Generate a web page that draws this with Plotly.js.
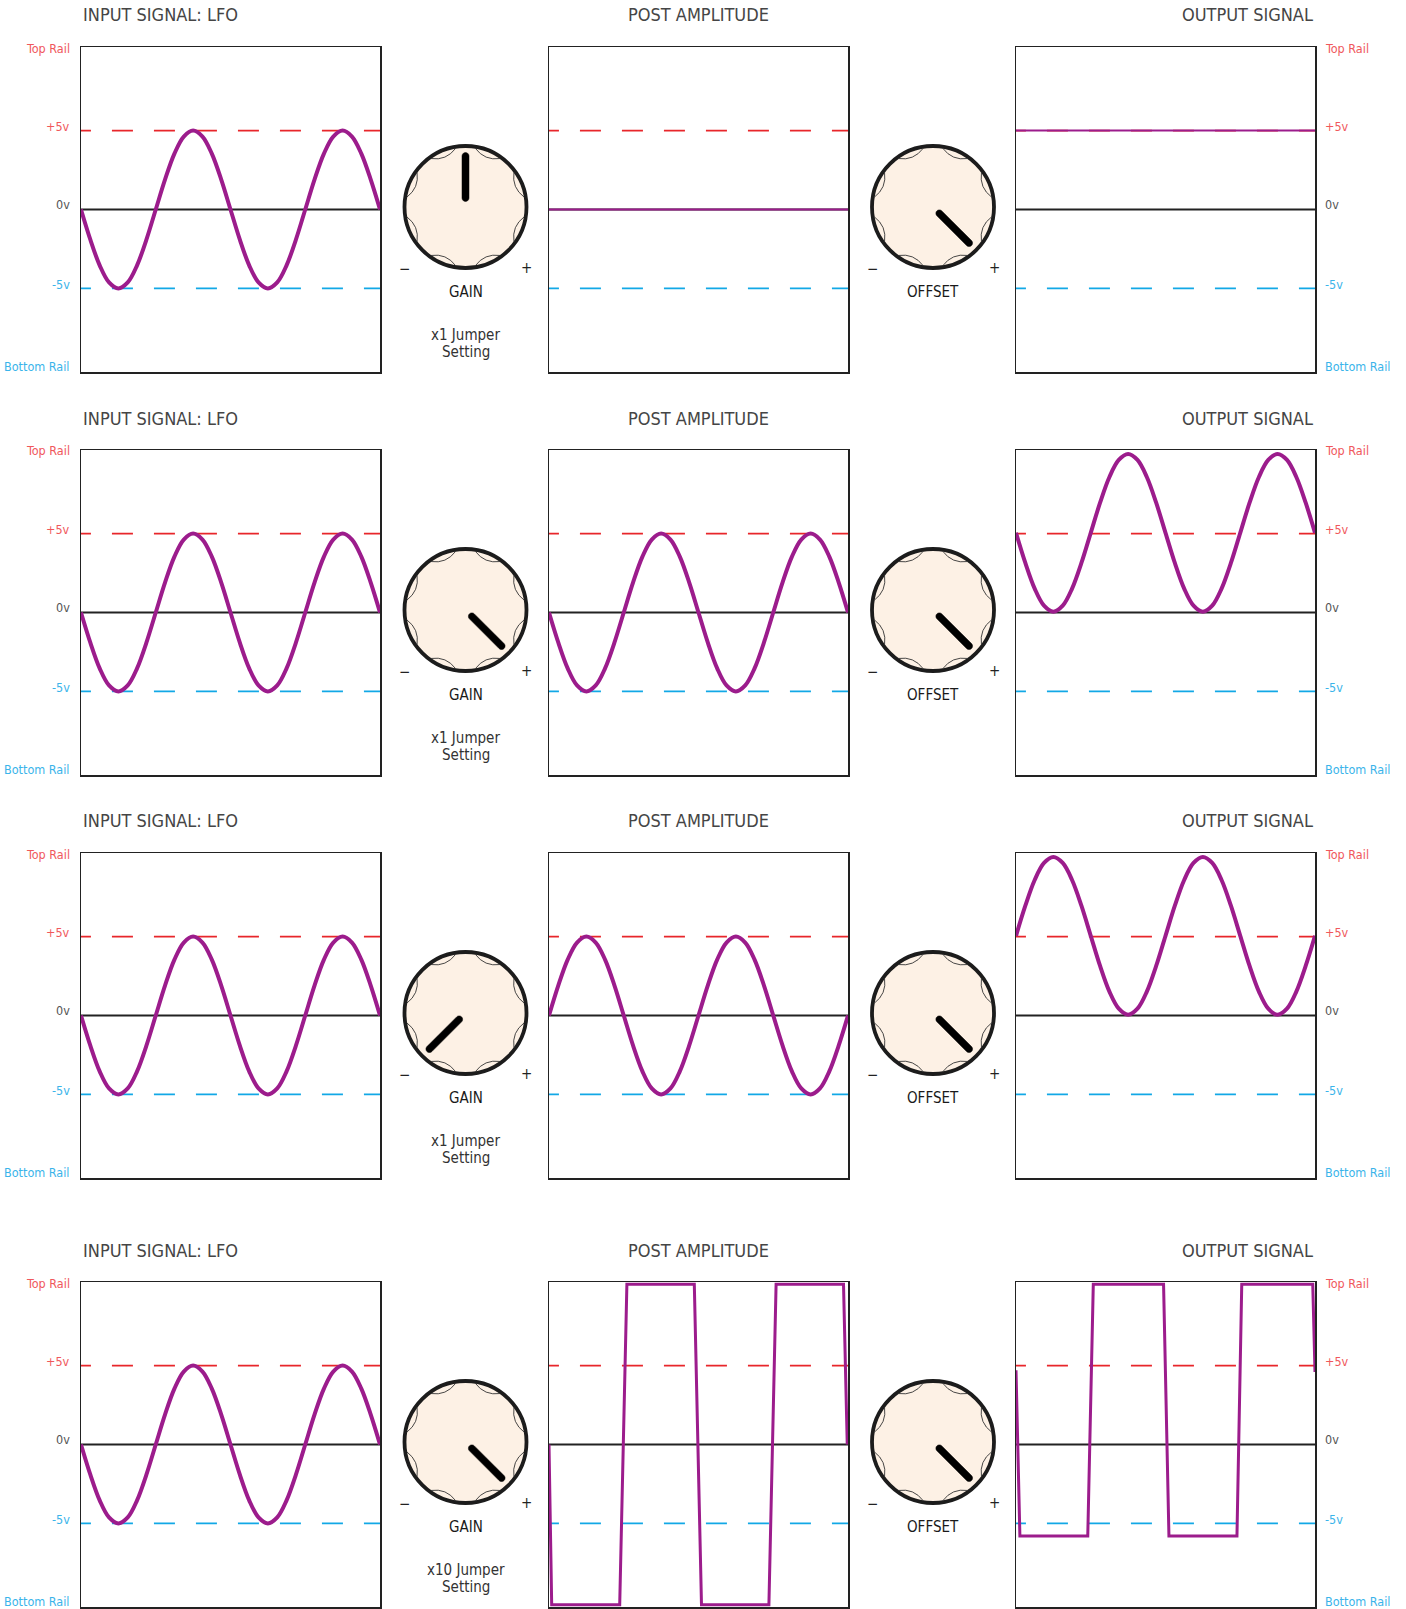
<!DOCTYPE html>
<html><head><meta charset="utf-8">
<script src="https://cdn.plot.ly/plotly-3.0.1.min.js"></script>
<style>html,body{margin:0;padding:0;background:#fff}</style>
</head><body><div id="chart" style="width:1406px;height:1609px"></div>
<script>
// ---------- DATA ----------
const columnTitles = ['INPUT SIGNAL: LFO', 'POST AMPLITUDE', 'OUTPUT SIGNAL'];
const railLabels = ['Top Rail', '+5v', '0v', '-5v', 'Bottom Rail'];
const railValues = [10.3, 5, 0, -5, -10.3];
const timeSteps = [0,0.0625,0.125,0.1875,0.25,0.3125,0.375,0.4375,0.5,0.5625,0.625,0.6875,0.75,0.8125,0.875,0.9375,1,
  1.0625,1.125,1.1875,1.25,1.3125,1.375,1.4375,1.5,1.5625,1.625,1.6875,1.75,1.8125,1.875,1.9375,2];
const inputLFO = [0,-1.91,-3.54,-4.62,-5,-4.62,-3.54,-1.91,0,1.91,3.54,4.62,5,4.62,3.54,1.91,0,
  -1.91,-3.54,-4.62,-5,-4.62,-3.54,-1.91,0,1.91,3.54,4.62,5,4.62,3.54,1.91,0];
const row1PostT = [0, 2];
const row1Post = [0, 0];
const row1OutT = [0, 2];
const row1Out = [5, 5];
const row2Post = [0,-1.91,-3.54,-4.62,-5,-4.62,-3.54,-1.91,0,1.91,3.54,4.62,5,4.62,3.54,1.91,0,
  -1.91,-3.54,-4.62,-5,-4.62,-3.54,-1.91,0,1.91,3.54,4.62,5,4.62,3.54,1.91,0];
const row2Out = [5.05,3.14,1.51,0.43,0.05,0.43,1.51,3.14,5.05,6.96,8.59,9.67,10.05,9.67,8.59,6.96,5.05,
  3.14,1.51,0.43,0.05,0.43,1.51,3.14,5.05,6.96,8.59,9.67,10.05,9.67,8.59,6.96,5.05];
const row3Post = [0,1.91,3.54,4.62,5,4.62,3.54,1.91,0,-1.91,-3.54,-4.62,-5,-4.62,-3.54,-1.91,0,
  1.91,3.54,4.62,5,4.62,3.54,1.91,0,-1.91,-3.54,-4.62,-5,-4.62,-3.54,-1.91,0];
const row3Out = [5.05,6.96,8.59,9.67,10.05,9.67,8.59,6.96,5.05,3.14,1.51,0.43,0.05,0.43,1.51,3.14,5.05,
  6.96,8.59,9.67,10.05,9.67,8.59,6.96,5.05,3.14,1.51,0.43,0.05,0.43,1.51,3.14,5.05];
const row4PostT = [0,0.018,0.473,0.521,0.972,1.02,1.471,1.519,1.97,1.995];
const row4Post = [0,-10.15,-10.15,10.15,10.15,-10.15,-10.15,10.15,10.15,0];
const row4OutT = [0,0.026,0.48,0.517,0.987,1.023,1.478,1.51,1.985,2.0];
const row4Out = [4.7,-5.8,-5.8,10.15,10.15,-5.8,-5.8,10.15,10.15,4.6];
const gainAngles = [0, 135, 225, 135];      // knob pointer, degrees clockwise from top
const offsetAngles = [135, 135, 135, 135];
const jumperLabels = ['x1 Jumper', 'x1 Jumper', 'x1 Jumper', 'x10 Jumper'];
const knobNames = ['GAIN', 'OFFSET'];

// ---------- LAYOUT GEOMETRY (pixels) ----------
const W = 1406, H = 1609;
const colLeft = [81, 549, 1016], colW = 299;
const rowTop = [47, 450, 853, 1282], rowH = 325;
const FONT = 'DejaVu Sans Condensed, DejaVu Sans, sans-serif';
const PURPLE = '#9c1c8c', RED = '#e8262b', BLUE = '#12a8e6';
const RED_LBL = '#f0585c', BLUE_LBL = '#3ab4ea', GREY = '#454545';

const px = x => x / W, py = y => 1 - y / H;
const P = (x, y) => px(x).toFixed(6) + ',' + py(y).toFixed(6);

const rows = [
  {post: {x: row1PostT, y: row1Post, w: 2, shape: 'linear'}, out: {x: row1OutT, y: row1Out, w: 2, shape: 'linear'}},
  {post: {x: timeSteps, y: row2Post, w: 4, shape: 'spline'}, out: {x: timeSteps, y: row2Out, w: 4, shape: 'spline'}},
  {post: {x: timeSteps, y: row3Post, w: 4, shape: 'spline'}, out: {x: timeSteps, y: row3Out, w: 4, shape: 'spline'}},
  {post: {x: row4PostT, y: row4Post, w: 3, shape: 'linear'}, out: {x: row4OutT, y: row4Out, w: 3, shape: 'linear'}}
];

const traces = [], layout = {
  width: W, height: H, margin: {l: 0, r: 0, t: 0, b: 0},
  paper_bgcolor: '#fff', plot_bgcolor: '#fff', showlegend: false,
  annotations: [], shapes: []
};

for (let r = 0; r < 4; r++) {
  for (let c = 0; c < 3; c++) {
    const n = r * 3 + c + 1;
    const xa = 'x' + (n > 1 ? n : ''), ya = 'y' + (n > 1 ? n : '');
    const axCommon = {showgrid: false, zeroline: false, showticklabels: false, ticks: '',
      showline: true, mirror: true, linecolor: '#222', linewidth: 1.5, fixedrange: true};
    layout['xaxis' + (n > 1 ? n : '')] = Object.assign({}, axCommon, {
      domain: [px(colLeft[c]), px(colLeft[c] + colW)], range: [0, 2], anchor: ya});
    layout['yaxis' + (n > 1 ? n : '')] = Object.assign({}, axCommon, {
      domain: [py(rowTop[r] + rowH), py(rowTop[r])], range: [railValues[4], railValues[0]], anchor: xa});

    // reference lines
    traces.push({x: [-0.074, 2], y: [railValues[1], railValues[1]], xaxis: xa, yaxis: ya, mode: 'lines',
      line: {color: RED, width: 1.6, dash: '21px,21px'}, hoverinfo: 'skip'});
    traces.push({x: [-0.074, 2], y: [railValues[3], railValues[3]], xaxis: xa, yaxis: ya, mode: 'lines',
      line: {color: BLUE, width: 1.6, dash: '21px,21px'}, hoverinfo: 'skip'});
    traces.push({x: [0, 2], y: [railValues[2], railValues[2]], xaxis: xa, yaxis: ya, mode: 'lines',
      line: {color: '#222', width: 2}, hoverinfo: 'skip'});
    // signal
    let s;
    if (c === 0) s = {x: timeSteps, y: inputLFO, w: 4, shape: 'spline'};
    else if (c === 1) s = rows[r].post;
    else s = rows[r].out;
    traces.push({x: s.x, y: s.y, xaxis: xa, yaxis: ya, mode: 'lines',
      line: {color: PURPLE, width: s.w, shape: s.shape, smoothing: 1}, hoverinfo: 'skip'});

    // column title
    const tx = c === 0 ? colLeft[0] : (c === 1 ? colLeft[1] + colW / 2 : colLeft[2] + colW);
    layout.annotations.push({text: columnTitles[c], xref: 'paper', yref: 'paper',
      x: px(tx), y: py(rowTop[r] - 32), xanchor: ['left', 'center', 'right'][c], yanchor: 'middle',
      showarrow: false, font: {family: FONT, size: 18, color: GREY}});

    // rail labels
    if (c !== 1) {
      const lblColors = [RED_LBL, RED_LBL, '#555', BLUE_LBL, BLUE_LBL];
      const shifts = [-1, 4, 5, 4, 6];
      for (let k = 0; k < railLabels.length; k++) {
        layout.annotations.push({text: railLabels[k], xref: 'paper', yref: ya,
          x: c === 0 ? px(colLeft[0] - 9) : px(colLeft[2] + colW + 8), y: railValues[k],
          xanchor: c === 0 ? 'right' : 'left', yanchor: 'middle', yshift: shifts[k],
          showarrow: false, font: {family: FONT, size: 12.5, color: lblColors[k]}});
      }
    }
  }

  // knobs
  const cy = rowTop[r] + 160;
  const knobX = [(colLeft[0] + colW + colLeft[1]) / 2 + 1, (colLeft[1] + colW + colLeft[2]) / 2 + 1];
  const angles = [gainAngles[r], offsetAngles[r]];
  for (let k = 0; k < 2; k++) {
    const cx = knobX[k], R = 61;
    layout.shapes.push({type: 'circle', xref: 'paper', yref: 'paper',
      x0: px(cx - R), x1: px(cx + R), y0: py(cy + R), y1: py(cy - R),
      fillcolor: '#fdf1e5', line: {color: '#1c1c1c', width: 3.8}, layer: 'above'});
    // scallop arcs (shallow, bowing inward)
    const half = 13 * Math.PI / 180, depth = 7;
    for (let j = 0; j < 8; j++) {
      const a = (22.5 + 45 * j) * Math.PI / 180;
      const pt = (ang, rad) => [cx + rad * Math.sin(ang), cy - rad * Math.cos(ang)];
      const p0 = pt(a - half, R - 1.5), p2 = pt(a + half, R - 1.5), m = pt(a, R - depth);
      const ctl = [2 * m[0] - (p0[0] + p2[0]) / 2, 2 * m[1] - (p0[1] + p2[1]) / 2];
      layout.shapes.push({type: 'path', xref: 'paper', yref: 'paper',
        path: 'M' + P(p0[0], p0[1]) + ' Q' + P(ctl[0], ctl[1]) + ' ' + P(p2[0], p2[1]),
        line: {color: '#333', width: 0.9}, layer: 'above'});
    }
    // pointer (rounded bar)
    const ang = angles[k] * Math.PI / 180;
    const dx = Math.sin(ang), dy = -Math.cos(ang);
    const nx = -dy, ny = dx, hw = 3.5, r1 = 9, r2 = 51;
    const p1 = [cx + dx * r1, cy + dy * r1], p2 = [cx + dx * r2, cy + dy * r2];
    const pts = [];
    for (let q = 0; q <= 10; q++) {
      const t = Math.PI / 2 - Math.PI * q / 10;
      pts.push([p2[0] + hw * (Math.cos(t) * dx + Math.sin(t) * nx), p2[1] + hw * (Math.cos(t) * dy + Math.sin(t) * ny)]);
    }
    for (let q = 0; q <= 10; q++) {
      const t = -Math.PI / 2 - Math.PI * q / 10;
      pts.push([p1[0] + hw * (Math.cos(t) * dx + Math.sin(t) * nx), p1[1] + hw * (Math.cos(t) * dy + Math.sin(t) * ny)]);
    }
    let path = '';
    pts.forEach((q, i) => { path += (i === 0 ? 'M' : 'L') + P(q[0], q[1]) + ' '; });
    path += 'Z';
    layout.shapes.push({type: 'path', xref: 'paper', yref: 'paper', path: path,
      fillcolor: '#000', line: {color: '#000', width: 0.5}, layer: 'above'});

    // knob labels
    const lab = (text, x, y, size, color) => layout.annotations.push({text: text, xref: 'paper', yref: 'paper',
      x: px(x), y: py(y), xanchor: 'center', yanchor: 'middle', showarrow: false,
      font: {family: FONT, size: size, color: color}});
    lab('−', cx - 61, cy + 62, 15, '#222');
    lab('+', cx + 61, cy + 61, 15, '#222');
    lab(knobNames[k], cx, cy + 85, 15, '#1a1a1a');
    if (k === 0) {
      lab(jumperLabels[r], cx, cy + 128, 15, '#333');
      lab('Setting', cx, cy + 145, 15, '#333');
    }
  }
}

Plotly.newPlot('chart', traces, layout, {displayModeBar: false, staticPlot: true});
</script>
</body></html>
